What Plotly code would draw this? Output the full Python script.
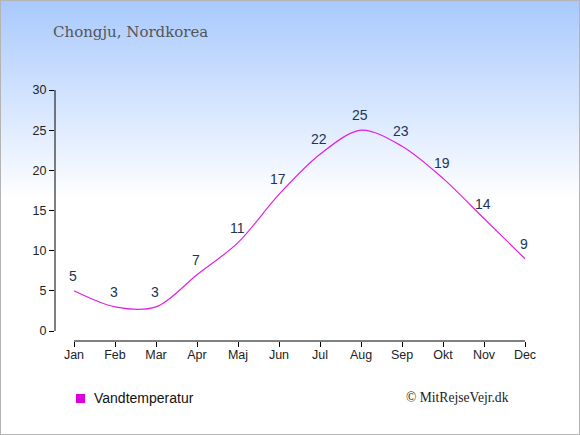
import plotly.graph_objects as go
import base64

months = ["Jan", "Feb", "Mar", "Apr", "Maj", "Jun", "Jul", "Aug", "Sep", "Okt", "Nov", "Dec"]
water_temp = [5, 3, 3, 7, 11, 17, 22, 25, 23, 19, 14, 9]
y_ticks = [0, 5, 10, 15, 20, 25, 30]
title_text = "Chongju, Nordkorea"
legend_text = "Vandtemperatur"
credit_text = "© MitRejseVejr.dk"

W, H = 580, 435
ML, MR, MT, MB = 55, 50, 90, 94
PW, PH = W - ML - MR, H - MT - MB

def px_x(px):
    return (px - ML) / PW

def px_y(py):
    return (H - MB - py) / PH

xs = list(range(len(months)))

svg = f'''<svg xmlns="http://www.w3.org/2000/svg" width="{W}" height="{H}" viewBox="0 0 {W} {H}" preserveAspectRatio="none">
<defs><linearGradient id="g" x1="0" y1="0" x2="0" y2="1">
<stop offset="0" stop-color="#a8c9fd"/>
<stop offset="0.46" stop-color="#ffffff"/>
<stop offset="1" stop-color="#ffffff"/>
</linearGradient></defs>
<rect x="0" y="0" width="{W}" height="{H}" fill="url(#g)"/>
<rect x="0.5" y="0.5" width="{W-1}" height="{H-1}" fill="none" stroke="#b4b4b4" stroke-width="1"/>
</svg>'''
svg_uri = "data:image/svg+xml;base64," + base64.b64encode(svg.encode()).decode()

fig = go.Figure()
fig.add_trace(go.Scatter(
    x=xs, y=water_temp, mode="lines",
    line=dict(color="#e020e0", width=1.2, shape="spline", smoothing=0.9),
    showlegend=False, hoverinfo="skip",
))

x0 = -19 / 41
x1 = 11 + (PW - 470) / 41
y0 = -10 / (241 / 30)

label_annotations = [
    dict(text=str(v), x=i, y=v, xref="x", yref="y", yshift=15, xshift=-1,
         showarrow=False, xanchor="center", yanchor="middle",
         font=dict(family="Liberation Sans, Arial", size=14, color="#223355"))
    for i, v in zip(xs, water_temp)
]

fig.update_layout(
    width=W, height=H,
    margin=dict(l=ML, r=MR, t=MT, b=MB),
    paper_bgcolor="rgba(0,0,0,0)", plot_bgcolor="rgba(0,0,0,0)",
    showlegend=False,
    images=[dict(source=svg_uri, xref="paper", yref="paper",
                 x=px_x(0), y=px_y(0), sizex=W / PW, sizey=H / PH,
                 xanchor="left", yanchor="top", sizing="stretch", layer="below")],
    xaxis=dict(range=[x0, x1], tickmode="array", tickvals=xs, ticktext=months,
               showgrid=False, zeroline=False, showline=False,
               ticks="outside", ticklen=5, tickcolor="#000", tickwidth=1,
               ticklabelstandoff=-3,
               tickfont=dict(family="Liberation Sans, Arial", size=12.5, color="#222")),
    yaxis=dict(range=[y0, 30], tickmode="array", tickvals=y_ticks,
               showgrid=False, zeroline=False, showline=False,
               ticks="outside", ticklen=5, tickcolor="#000", tickwidth=1,
               tickfont=dict(family="Liberation Sans, Arial", size=12.5, color="#222")),
    shapes=[
        dict(type="line", xref="paper", yref="y", x0=0, x1=0, y0=0, y1=30,
             line=dict(color="#000", width=1)),
        dict(type="line", xref="x", yref="paper", x0=0, x1=11, y0=0, y1=0,
             line=dict(color="#000", width=1)),
        dict(type="rect", xref="paper", yref="paper",
             x0=px_x(76), x1=px_x(85), y0=px_y(403), y1=px_y(394),
             fillcolor="#dd00dd", line=dict(width=0)),
    ],
    annotations=label_annotations + [
        dict(text=title_text, xref="paper", yref="paper", x=px_x(51), y=px_y(32),
             xanchor="left", yanchor="middle", showarrow=False,
             font=dict(family="DejaVu Serif, Georgia, serif", size=15, color="#555")),
        dict(text=legend_text, xref="paper", yref="paper", x=px_x(92), y=px_y(398),
             xanchor="left", yanchor="middle", showarrow=False,
             font=dict(family="Liberation Sans, Arial", size=14, color="#111")),
        dict(text=credit_text, xref="paper", yref="paper", x=px_x(511), y=px_y(397),
             xanchor="right", yanchor="middle", showarrow=False,
             font=dict(family="Liberation Serif, Times New Roman, serif", size=13.6, color="#222")),
    ],
)

fig.write_html("out.html", config={"displayModeBar": False},
               post_script="document.body.style.margin='0';document.body.style.overflow='hidden';")
